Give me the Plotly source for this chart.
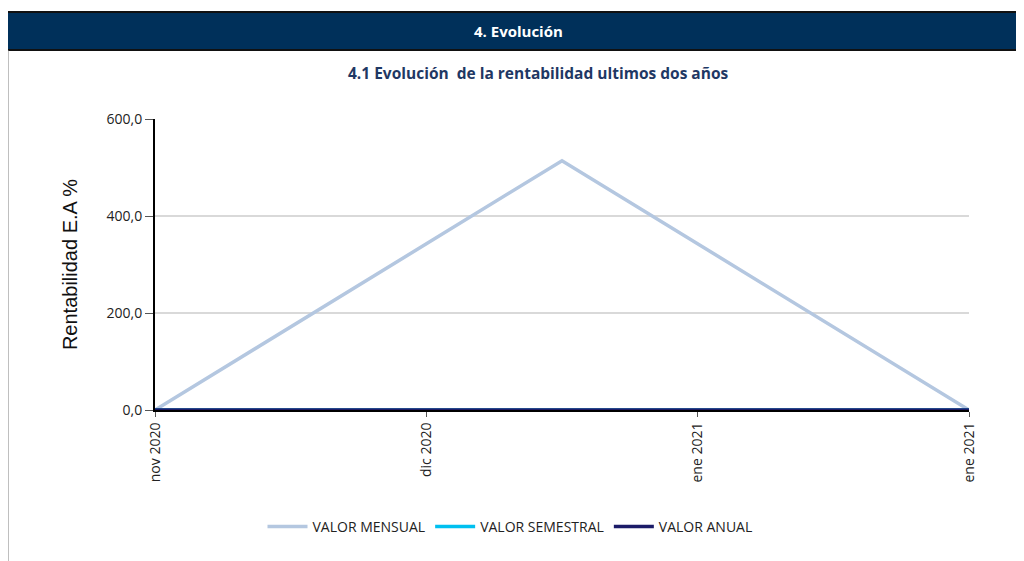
import plotly.graph_objects as go

# ---- data ----
tick_labels = ["nov 2020", "dic 2020", "ene 2021", "ene 2021"]
tick_pos = [0, 1, 2, 3]
mensual_x = [0, 1.5, 3]
mensual_y = [0, 514, 0]
semestral_x = [0, 1.5, 3]
semestral_y = [0, 0, 0]
anual_x = [0, 1.5, 3]
anual_y = [0, 0, 0]

W, H = 1024, 561
OFF = 8  # page body margin offset
L, R, T, B = 155 - OFF, 969 - OFF, 119 - OFF, 410 - OFF

def px(x):
    return (x - OFF - L) / (R - L)

def py(y):
    return (B - (y - OFF)) / (B - T)

FONT = "Open Sans, Liberation Sans"

fig = go.Figure()
fig.add_trace(go.Scatter(x=mensual_x, y=mensual_y, mode="lines", name="VALOR MENSUAL",
                         line=dict(color="#B4C7E0", width=3.5)))
fig.add_trace(go.Scatter(x=semestral_x, y=semestral_y, mode="lines", name="VALOR SEMESTRAL",
                         line=dict(color="#00C0F0", width=3.5)))
fig.add_trace(go.Scatter(x=anual_x, y=anual_y, mode="lines", name="VALOR ANUAL",
                         line=dict(color="#1B1B68", width=3.5)))

shapes = [
    dict(type="rect", xref="paper", yref="paper", x0=px(7), x1=px(1040), y0=py(50), y1=py(12),
         fillcolor="#00305A", line=dict(color="#111111", width=2), layer="below"),
    dict(type="line", xref="paper", yref="paper", x0=px(7.5), x1=px(7.5), y0=py(575), y1=py(50),
         line=dict(color="#808080", width=2)),
]

annotations = [
    dict(text="<b>4. Evolución</b>", xref="paper", yref="paper", x=px(518), y=py(31),
         showarrow=False, font=dict(family=FONT, size=15, color="white"),
         xanchor="center", yanchor="middle"),
    dict(text="<b>4.1 Evolución  de la rentabilidad ultimos dos años</b>", xref="paper", yref="paper",
         x=px(538), y=py(73), showarrow=False,
         font=dict(family=FONT, size=15.5, color="#1F3864"),
         xanchor="center", yanchor="middle"),
]

fig.update_layout(
    width=W, height=H,
    margin=dict(l=L, r=W - R, t=T, b=H - B),
    paper_bgcolor="white", plot_bgcolor="white",
    separators=",.",
    shapes=shapes, annotations=annotations,
    showlegend=True,
    legend=dict(orientation="h", x=px(510), xanchor="center", y=py(527), yanchor="middle",
                font=dict(family=FONT, size=14, color="#222222"),
                itemwidth=40),
    font=dict(family=FONT, size=14, color="#222222"),
)

fig.update_xaxes(
    range=[0, 3], tickvals=tick_pos, ticktext=tick_labels, tickangle=-90,
    showgrid=False, zeroline=False, showline=True, linecolor="#000000", linewidth=2,
    ticks="outside", ticklen=5, tickcolor="#555555",
    tickfont=dict(family=FONT, size=14, color="#222222"),
)
fig.update_yaxes(
    range=[0, 600], tickvals=[0, 200, 400, 600], tickformat=".1f",
    showgrid=True, gridcolor="#D9D9D9", gridwidth=2, zeroline=False,
    showline=True, linecolor="#000000", linewidth=2,
    ticks="outside", ticklen=8, tickcolor="#555555",
    tickfont=dict(family=FONT, size=14, color="#222222"),
    title=dict(text="Rentabilidad E.A %", font=dict(family="Liberation Sans, Arial", size=20, color="#111111"),
               standoff=24),
)

fig.write_html("out.html")
